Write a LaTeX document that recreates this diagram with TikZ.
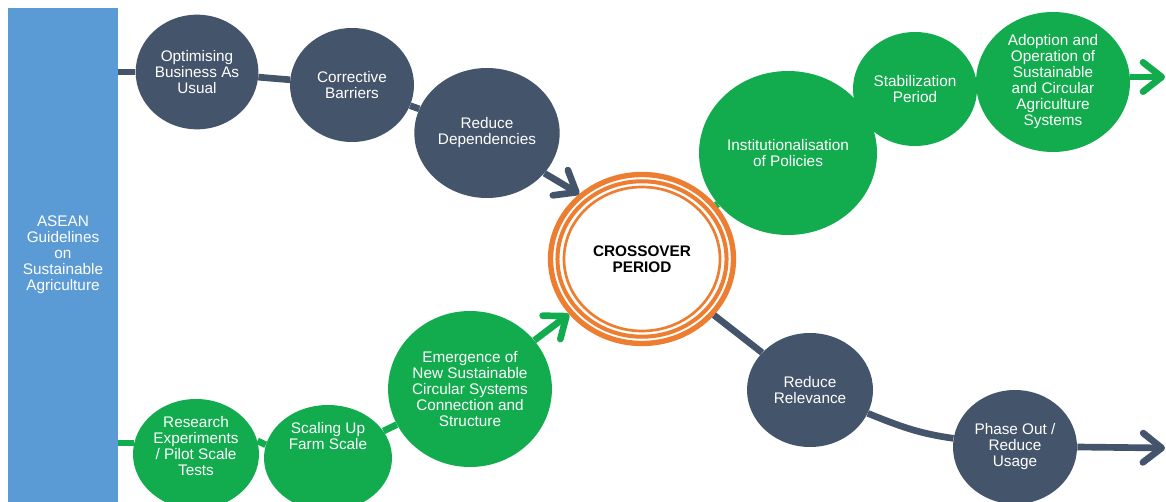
\documentclass[tikz,border=0pt]{standalone}
\usepackage{fontspec}
\setmainfont{Liberation Sans}
\usepackage{xcolor}
\usepackage{tikz}
\usetikzlibrary{shapes.geometric,arrows.meta}

\definecolor{aseanblue}{HTML}{5B9BD5}
\definecolor{slate}{HTML}{44546A}
\definecolor{leaf}{RGB}{18,172,78}
\definecolor{ring}{HTML}{ED7D31}

\tikzset{
	ball/.style 2 args={ellipse, minimum width=#1, minimum height=#2, inner sep=0pt,
		text=white, align=center, font=\fontsize{11.5}{12}\selectfont},
	darkball/.style 2 args={ball={#1}{#2}, fill=slate},
	greenball/.style 2 args={ball={#1}{#2}, fill=leaf},
	balltext/.style={text=white, align=center, font=\fontsize{11.5}{12}\selectfont},
	link/.style={line width=5pt, draw=#1},
	tip/.style={-{Straight Barb[length=14pt,width=22pt,round]}}
}

\begin{document}
\begin{tikzpicture}[x=0.75pt,y=-0.75pt]
	\useasboundingbox (0,0) rectangle (1166,502);

	% guideline bar
	\node[fill=aseanblue, minimum width=82.5pt, minimum height=370.5pt, inner sep=0pt,
		text=white, align=center, font=\fontsize{11.5}{12}\selectfont] (asean) at (63,255)
		{ASEAN\\Guidelines\\on\\Sustainable\\Agriculture};

	% upper path
	\node[darkball={92pt}{86pt}] (opt) at (197,72) {Optimising\\Business As\\Usual};
	\node[darkball={93pt}{85.5pt}] (corr) at (352,85) {Corrective\\Barriers};
	\node[darkball={109pt}{97.5pt}] (dep) at (487,133) {Reduce\\Dependencies};

	% crossover
	\node[ellipse, minimum width=137.25pt, minimum height=126.75pt, inner sep=0pt,
		draw=ring, line width=4pt, font=\bfseries\fontsize{11.5}{12}\selectfont,
		align=center] (cross) at (642,259) {CROSSOVER\\PERIOD};
	\draw[ring, line width=3pt] (cross.center) ellipse [x radius=63.4pt, y radius=58.3pt];
	\draw[ring, line width=2pt] (cross.center) ellipse [x radius=58.5pt, y radius=54pt];

	% green upper right
	\node[greenball={133.5pt}{123pt}] (inst) at (788,153) {Institutionalisation\\of Policies};
	\node[greenball={93pt}{85.5pt}] (stab) at (915,89) {Stabilization\\Period};
	\node[greenball={115.5pt}{105pt}] (adop) at (1053,82)
		{Adoption and\\Operation of\\Sustainable\\and Circular\\Agriculture\\Systems};
	\coordinate (adopend) at (1165,77);

	% green lower left
	\node[greenball={94.5pt}{82.5pt}] (res) at (196,454) {};
	\node[balltext] (restext) at ([yshift=6pt]res.center) {Research\\Experiments\\/ Pilot Scale\\Tests};
	\node[greenball={96pt}{79.5pt}] (scal) at (328,458) {};
	\node[balltext] (scaltext) at ([yshift=16.5pt]scal.center) {Scaling Up\\Farm Scale};
	\node[greenball={120pt}{117pt}] (emer) at (470,389)
		{Emergence of\\New Sustainable\\Circular Systems\\Connection and\\Structure};

	% dark lower right
	\node[darkball={94.5pt}{85.5pt}] (rel) at (810,390) {Reduce\\Relevance};
	\node[darkball={93pt}{85.5pt}] (phase) at (1015,447) {Phase Out /\\Reduce\\Usage};
	\coordinate (phaseend) at (1165,448);

	% connectors
	\draw[link=slate] (asean.east |- opt) -- (opt);
	\draw[link=slate] (opt) -- (corr);
	\draw[link=slate] (corr) -- (dep);
	\draw[link=slate, tip] (dep.-35) -- (cross.134);
	\draw[link=leaf] (asean.east |- res.170) -- (res.170);
	\draw[link=leaf] (res.12) -- (scal.168);
	\draw[link=leaf] (scal) -- (emer);
	\draw[link=leaf, tip] (emer) -- (cross);
	\draw[link=leaf] (cross) -- (inst);
	\draw[link=leaf, tip] (adop.east |- adopend) -- (adopend);
	\draw[link=slate] (cross) -- (rel);
	\draw[link=slate] (rel) to[out=-22, in=172] (phase);
	\draw[link=slate, tip] (phase.east) -- (phaseend);
\end{tikzpicture}
\end{document}
